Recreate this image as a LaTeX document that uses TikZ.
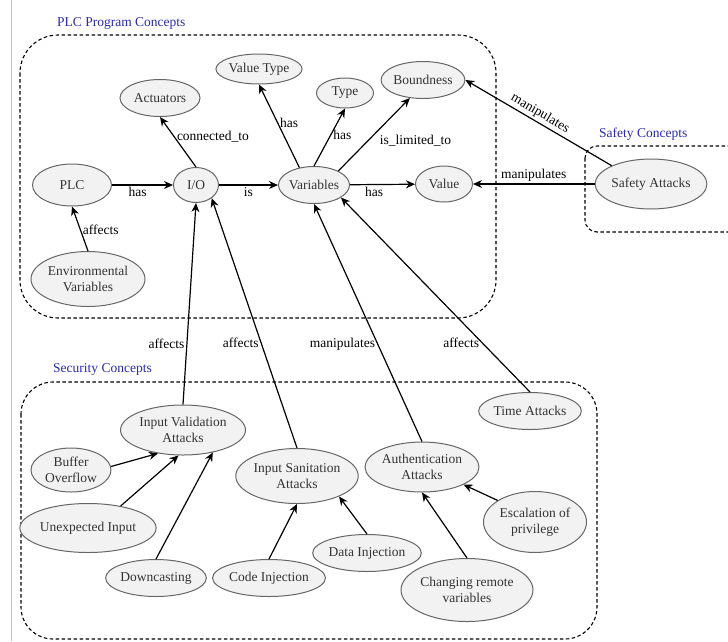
\documentclass[tikz,border=0pt]{standalone}
\usepackage{fontspec}
\setmainfont{Liberation Serif}
\usetikzlibrary{shapes.geometric,arrows.meta}
\definecolor{conceptfill}{HTML}{F2F2F2}
\definecolor{conceptline}{HTML}{666666}
\definecolor{concepttext}{HTML}{333333}
\definecolor{titleblue}{HTML}{2A2AAA}

\begin{document}
\begin{tikzpicture}[x=1pt,y=-1pt,
    concept/.style={ellipse,draw=conceptline,fill=conceptfill,text=concepttext,
      line width=1pt,inner sep=0pt,align=center,font=\fontsize{13.5}{16.5}\selectfont},
    relation/.style={line width=1.2pt,-{Stealth[length=9pt,width=8pt]}},
    lbl/.style={font=\fontsize{13.5}{16}\selectfont,inner sep=2pt},
    groupbox/.style={draw,line width=1.1pt,dash pattern=on 3.5pt off 2.5pt},
    grouptitle/.style={text=titleblue,anchor=west,inner sep=0pt,font=\fontsize{13.5}{16}\selectfont}]
    %initialisation
    \useasboundingbox (0,0) rectangle (728,641);
    \clip (0,0) rectangle (728,641);
    \draw[black!25,line width=1pt] (11,0) -- (11,641);
    %groups
    \draw[groupbox,rounded corners=38pt] (20,35) rectangle (496,318);
    \draw[groupbox,rounded corners=12pt] (585,146) rectangle (760,232);
    \draw[groupbox,rounded corners=32pt] (21,382) rectangle (597,639);
    \node[grouptitle] (plctitle) at (57,23) {PLC Program Concepts};
    \node[grouptitle] (safetytitle) at (599,134) {Safety Concepts};
    \node[grouptitle] (sectitle) at (53,369) {Security Concepts};
    %definitions
    \node[concept,minimum width=79pt,minimum height=42pt] (plc) at (72,185) {PLC};
    \node[concept,minimum width=45pt,minimum height=35pt] (io) at (196,185) {I/O};
    \node[concept,minimum width=70pt,minimum height=37pt] (var) at (314,185) {Variables};
    \node[concept,minimum width=57pt,minimum height=36pt] (val) at (444,184) {Value};
    \node[concept,minimum width=80pt,minimum height=37pt] (act) at (160,98) {Actuators};
    \node[concept,minimum width=80pt,minimum height=30pt] (vt) at (259,69) {Value Type};
    \node[concept,minimum width=57pt,minimum height=30pt] (type) at (345,93) {Type};
    \node[concept,minimum width=80pt,minimum height=37pt] (bnd) at (423,80) {Boundness};
    \node[concept,minimum width=114pt,minimum height=55pt] (env) at (88,279) {Environmental\\Variables};
    \node[concept,minimum width=109pt,minimum height=50pt] (safety) at (651,184) {Safety Attacks};
    \node[concept,minimum width=125pt,minimum height=50pt] (iva) at (183,430) {Input Validation\\Attacks};
    \node[concept,minimum width=80pt,minimum height=44pt] (buf) at (71,470) {Buffer\\Overflow};
    \node[concept,minimum width=114pt,minimum height=49pt] (unexp) at (88,528) {Unexpected Input};
    \node[concept,minimum width=92pt,minimum height=37pt] (down) at (156,578) {Downcasting};
    \node[concept,minimum width=113pt,minimum height=55pt] (isa) at (297,476) {Input Sanitation\\Attacks};
    \node[concept,minimum width=102pt,minimum height=37pt] (code) at (269,578) {Code Injection};
    \node[concept,minimum width=98pt,minimum height=37pt] (data) at (367,553) {Data Injection};
    \node[concept,minimum width=114pt,minimum height=50pt] (aa) at (422,467) {Authentication\\Attacks};
    \node[concept,minimum width=92pt,minimum height=37pt] (time) at (530,411) {Time Attacks};
    \node[concept,minimum width=103pt,minimum height=61pt] (esc) at (535,522) {Escalation of\\privilege};
    \node[concept,minimum width=125pt,minimum height=63pt] (chg) at (467,590) {Changing remote\\variables};
    %drawing
    \draw[relation] (plc) -- node[lbl,pos=.42,below] {has} (io);
    \draw[relation] (io) -- node[lbl,pos=.5,below] {is} (var);
    \draw[relation] (var) -- node[lbl,pos=.37,below] {has} (val);
    \draw[relation] (io.north) -- node[lbl,pos=.6,right] {connected\_to} (act.south);
    \draw[relation] (var.130) -- node[lbl,pos=.54,right] {has} (vt.south);
    \draw[relation] (var.north) -- node[lbl,pos=.54,right] {has} (type.south);
    \draw[relation] (var.30) -- node[lbl,pos=.42,right=9pt] {is\_limited\_to} (bnd.-126);
    \draw[relation] (env.north) -- node[lbl,pos=.48,right] {affects} (plc.south);
    \draw[relation] (safety.155) -- node[lbl,pos=.52,sloped,above] {manipulates} (bnd.east);
    \draw[relation] (safety) -- node[lbl,pos=.5,above] {manipulates} (val);
    \draw[relation] (iva.north) -- node[lbl,pos=.3,left] {affects} (io.south);
    \draw[relation] (isa.north) -- node[lbl,pos=.42,left] {affects} (io.-40);
    \draw[relation] (aa.north) -- node[lbl,pos=.41,left] {manipulates} (var.south);
    \draw[relation] (time.north) -- node[lbl,pos=.255,left] {affects} (var.-25);
    \draw[relation] (buf.5) -- (iva.-137);
    \draw[relation] (unexp.34) -- (iva.-100);
    \draw[relation] (down.north) -- (iva.-37);
    \draw[relation] (code.north) -- (isa.south);
    \draw[relation] (data.north) -- (isa.-26);
    \draw[relation] (chg.north) -- (aa.south);
    \draw[relation] (esc.150) -- (aa.-23);
\end{tikzpicture}
\end{document}
